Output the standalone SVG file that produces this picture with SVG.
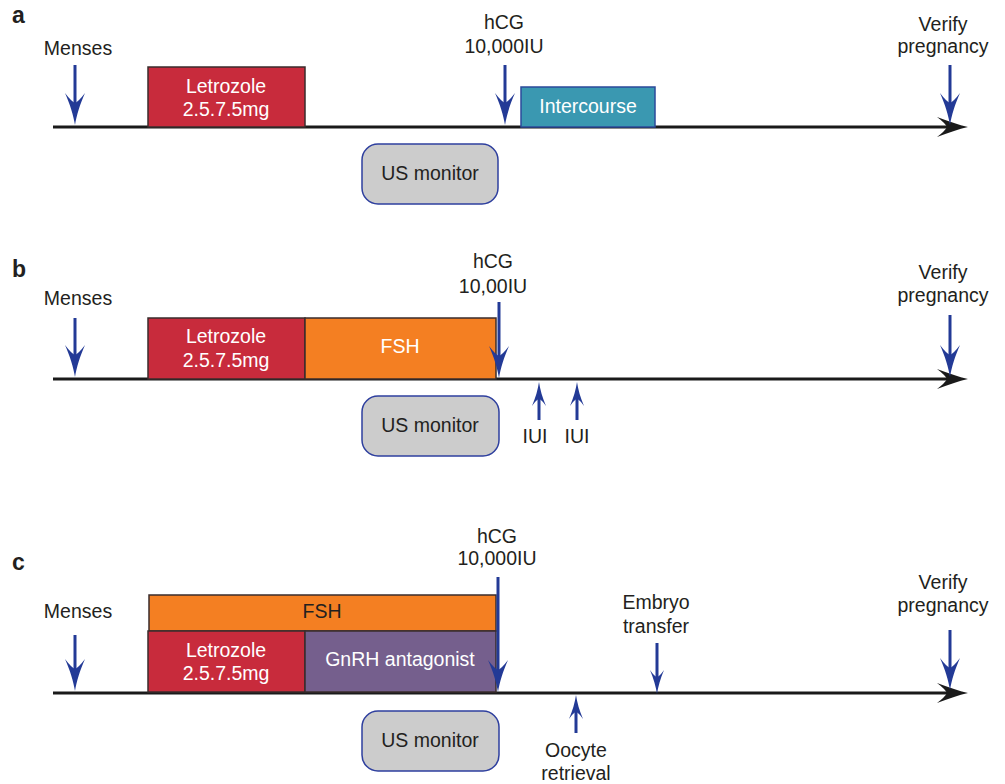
<svg xmlns="http://www.w3.org/2000/svg" xmlns:xlink="http://www.w3.org/1999/xlink" width="1005" height="784" viewBox="0 0 1005 784">
  <style>
    text { font-family: "Liberation Sans", Arial, sans-serif; font-size: 19.5px; fill: #231f20; text-anchor: middle; }
    .lbl { font-size: 23px; font-weight: bold; text-anchor: start; }
    .wt { fill: #ffffff; }
    .axis { stroke: #1a1a1a; stroke-width: 3; fill: none; }
    .shaft { stroke: #233a96; stroke-width: 3; fill: none; }
    .head { fill: #233a96; }
    .axhead { fill: #1a1a1a; }
    .box { stroke: #3a2c2c; stroke-width: 1.5; }
    .letro { fill: #c82b3c; }
    .fsh { fill: #f47f22; }
    .gnrh { fill: #755f8d; }
    .inter { fill: #3a98b1; stroke: #2b4a9b; stroke-width: 1.5; }
    .us { fill: #cccccc; stroke: #2e3f9e; stroke-width: 1.5; }
  </style>
  <defs>
    <!-- large downward head, tip at origin -->
    <path id="headL" d="M0,0 C-1.5,-9 -5,-21 -10,-32 Q-4,-24 0,-22 Q4,-24 10,-32 C5,-21 1.5,-9 0,0 Z"/>
    <!-- small downward head, tip at origin -->
    <path id="headS" d="M0,0 C-1,-7 -3.5,-16 -7,-24 Q-3,-18 0,-17 Q3,-18 7,-24 C3.5,-16 1,-7 0,0 Z"/>
    <!-- timeline head pointing right, tip at origin -->
    <path id="axHead" d="M0,0 C-9,-2 -20,-6 -31,-10 Q-23,-4 -21,0 Q-23,4 -31,10 C-20,6 -9,2 0,0 Z"/>
  </defs>

  <!-- ===== Panel a ===== -->
  <g id="panel-a">
    <text class="lbl" x="12" y="23">a</text>
    <g id="a-axis">
      <line class="axis" x1="53" y1="127" x2="950" y2="127"/>
      <use href="#axHead" class="axhead" x="968" y="127"/>
    </g>
    <g id="a-letrozole">
      <rect class="box letro" x="148" y="67" width="157" height="60"/>
      <text class="wt" x="226" y="93">Letrozole</text>
      <text class="wt" x="226" y="116">2.5.7.5mg</text>
    </g>
    <g id="a-intercourse">
      <rect class="inter" x="521" y="87" width="134" height="40"/>
      <text class="wt" x="588" y="113">Intercourse</text>
    </g>
    <g id="a-us">
      <rect class="us" x="362" y="144" width="136" height="60" rx="16"/>
      <text x="430" y="180">US monitor</text>
    </g>
    <g id="a-menses">
      <text x="78" y="55">Menses</text>
    </g>
    <g id="a-hcg">
      <text x="504" y="29">hCG</text>
      <text x="504" y="53">10,000IU</text>
    </g>
    <g id="a-verify">
      <text x="943" y="31">Verify</text>
      <text x="943" y="53">pregnancy</text>
    </g>
    <g id="a-connectors">
      <line class="shaft" x1="75" y1="65" x2="75" y2="105"/>
      <use href="#headL" class="head" x="75" y="125"/>
      <line class="shaft" x1="505" y1="65" x2="505" y2="105"/>
      <use href="#headL" class="head" x="505" y="125"/>
      <line class="shaft" x1="950" y1="65" x2="950" y2="105"/>
      <use href="#headL" class="head" x="950" y="125"/>
    </g>
  </g>

  <!-- ===== Panel b ===== -->
  <g id="panel-b">
    <text class="lbl" x="12" y="277">b</text>
    <g id="b-axis">
      <line class="axis" x1="53" y1="379" x2="950" y2="379"/>
      <use href="#axHead" class="axhead" x="968" y="379"/>
    </g>
    <g id="b-letrozole">
      <rect class="box letro" x="148" y="318" width="157" height="61"/>
      <text class="wt" x="226" y="343">Letrozole</text>
      <text class="wt" x="226" y="367">2.5.7.5mg</text>
    </g>
    <g id="b-fsh">
      <rect class="box fsh" x="305" y="318" width="191" height="61"/>
      <text class="wt" x="400" y="353">FSH</text>
    </g>
    <g id="b-us">
      <rect class="us" x="362" y="396" width="137" height="60" rx="16"/>
      <text x="430" y="432">US monitor</text>
    </g>
    <g id="b-menses">
      <text x="78" y="305">Menses</text>
    </g>
    <g id="b-hcg">
      <text x="493" y="268">hCG</text>
      <text x="493" y="293">10,00IU</text>
    </g>
    <g id="b-iui1">
      <text x="535" y="443">IUI</text>
    </g>
    <g id="b-iui2">
      <text x="577" y="443">IUI</text>
    </g>
    <g id="b-verify">
      <text x="943" y="279">Verify</text>
      <text x="943" y="302">pregnancy</text>
    </g>
    <g id="b-connectors">
      <line class="shaft" x1="75" y1="318" x2="75" y2="357"/>
      <use href="#headL" class="head" x="75" y="377"/>
      <line class="shaft" x1="499" y1="302" x2="499" y2="358"/>
      <use href="#headL" class="head" x="499" y="378"/>
      <line class="shaft" x1="539" y1="420" x2="539" y2="395"/>
      <use href="#headS" class="head" transform="translate(539 382) rotate(180)"/>
      <line class="shaft" x1="577" y1="420" x2="577" y2="395"/>
      <use href="#headS" class="head" transform="translate(577 382) rotate(180)"/>
      <line class="shaft" x1="950" y1="315" x2="950" y2="357"/>
      <use href="#headL" class="head" x="950" y="377"/>
    </g>
  </g>

  <!-- ===== Panel c ===== -->
  <g id="panel-c">
    <text class="lbl" x="12" y="570">c</text>
    <g id="c-axis">
      <line class="axis" x1="53" y1="693" x2="950" y2="693"/>
      <use href="#axHead" class="axhead" x="968" y="693"/>
    </g>
    <g id="c-fsh">
      <rect class="box fsh" x="149" y="595" width="347" height="36"/>
      <text x="322" y="618">FSH</text>
    </g>
    <g id="c-letrozole">
      <rect class="box letro" x="148" y="631" width="157" height="61"/>
      <text class="wt" x="226" y="657">Letrozole</text>
      <text class="wt" x="226" y="680">2.5.7.5mg</text>
    </g>
    <g id="c-gnrh">
      <rect class="box gnrh" x="305" y="631" width="191" height="61"/>
      <text class="wt" x="400" y="666">GnRH antagonist</text>
    </g>
    <g id="c-us">
      <rect class="us" x="362" y="711" width="137" height="60" rx="16"/>
      <text x="430" y="747">US monitor</text>
    </g>
    <g id="c-menses">
      <text x="78" y="618">Menses</text>
    </g>
    <g id="c-hcg">
      <text x="497" y="543">hCG</text>
      <text x="497" y="565">10,000IU</text>
    </g>
    <g id="c-embryo">
      <text x="656" y="609">Embryo</text>
      <text x="656" y="633">transfer</text>
    </g>
    <g id="c-oocyte">
      <text x="576" y="757">Oocyte</text>
      <text x="576" y="780">retrieval</text>
    </g>
    <g id="c-verify">
      <text x="943" y="589">Verify</text>
      <text x="943" y="612">pregnancy</text>
    </g>
    <g id="c-connectors">
      <line class="shaft" x1="75" y1="635" x2="75" y2="671"/>
      <use href="#headL" class="head" x="75" y="691"/>
      <line class="shaft" x1="498" y1="577" x2="498" y2="672"/>
      <use href="#headL" class="head" x="498" y="692"/>
      <line class="shaft" x1="657" y1="643" x2="657" y2="680"/>
      <use href="#headS" class="head" x="657" y="694"/>
      <line class="shaft" x1="576" y1="733" x2="576" y2="708"/>
      <use href="#headS" class="head" transform="translate(576 695) rotate(180)"/>
      <line class="shaft" x1="950" y1="630" x2="950" y2="670"/>
      <use href="#headL" class="head" x="950" y="690"/>
    </g>
  </g>
</svg>
